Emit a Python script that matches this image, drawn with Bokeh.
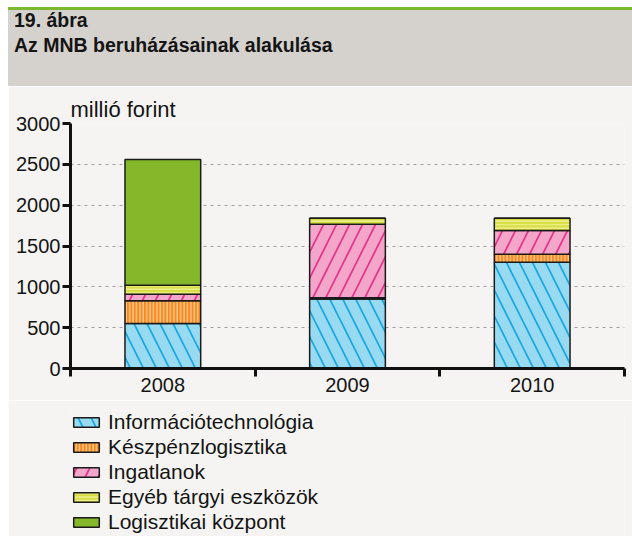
from bokeh.plotting import figure
from bokeh.layouts import column
from bokeh.models import (FixedTicker, Legend, LegendItem, Range1d,
                          ColumnDataSource, Div)
from bokeh.embed import file_html
from bokeh.resources import INLINE

# ---- data ----
years = ["2008", "2009", "2010"]
informaciotechnologia = [550, 850, 1300]
keszpenzlogisztika = [280, 15, 100]
ingatlanok = [80, 900, 290]
egyeb_targyi = [110, 75, 150]
logisztikai_kozpont = [1540, 0, 0]
series_labels = ["Információtechnológia", "Készpénzlogisztika", "Ingatlanok",
                 "Egyéb tárgyi eszközök", "Logisztikai központ"]
y_ticks = [0, 500, 1000, 1500, 2000, 2500, 3000]
unit_label = "millió forint"
chart_number = "19. ábra"
chart_title = "Az MNB beruházásainak alakulása"

FONT = "Liberation Sans"
TXT = "#141414"
BG = "#f5f4f2"
HEADER = "#d5d1cd"
W = 624

# ---- header ----
header = Div(
    text=(f"<div style='line-height:19px'>{chart_number}</div>"
          f"<div style='line-height:19px;margin-top:6px'>{chart_title}</div>"),
    width=W, height=79, margin=0,
    styles={"margin": "0px", "background-color": HEADER,
            "border-top": "3px solid #7cb82f", "box-sizing": "border-box",
            "padding": "1px 0 0 6px", "font-family": FONT,
            "font-size": "19.5px", "font-weight": "bold", "color": TXT})

# ---- chart ----
x = [i + 0.5 for i in range(len(years))]
names = ["it", "kesz", "ing", "egy", "log"]
source = ColumnDataSource(dict(x=x, it=informaciotechnologia, kesz=keszpenzlogisztika,
                               ing=ingatlanok, egy=egyeb_targyi, log=logisztikai_kozpont))

p = figure(width=W, height=314, x_range=Range1d(0, len(years)),
           y_range=Range1d(0, 3000), output_backend="svg", toolbar_location=None,
           min_border_left=62, min_border_right=8, min_border_top=37,
           min_border_bottom=32)
p.background_fill_color = BG
p.border_fill_color = BG
p.outline_line_color = None

fill_colors = ["#98daf1", "#f58a1f", "#f3a6c9", "#d8dd3e", "#84b82a"]
hatch_patterns = ["\\", "|", "/", "-", " "]
hatch_colors = ["#1aa8e0", "#fbcb96", "#e6358a", "#f1f3a2", "#84b82a"]
hatch_scales = [26, 3.4, 26, 3.4, 12]
hatch_weights = [1.7, 1.3, 1.7, 1.2, 1]
bar_style = dict(width=0.41, fill_color=fill_colors, hatch_pattern=hatch_patterns,
                 hatch_color=hatch_colors, hatch_scale=hatch_scales,
                 hatch_weight=hatch_weights, line_color="#1a1a1a", line_width=1.5)

rs = p.vbar_stack(stackers=names, x="x", source=source, **bar_style)

p.title.text = unit_label
p.title.text_font = FONT
p.title.text_font_size = "22px"
p.title.text_font_style = "normal"
p.title.text_color = TXT
p.title.offset = 0
p.title.standoff = 3

# x axis (labels at category centres, ticks at category boundaries)
p.xaxis.ticker = FixedTicker(ticks=x, minor_ticks=list(range(len(years) + 1)))
p.xaxis.major_label_overrides = {xi: yr for xi, yr in zip(x, years)}
p.xaxis.major_tick_out = 0
p.xaxis.major_tick_in = 0
p.xaxis.minor_tick_out = 8
p.xaxis.minor_tick_in = 0
p.xaxis.minor_tick_line_width = 3
p.xaxis.minor_tick_line_color = "#111111"
p.xaxis.axis_line_width = 3
p.xaxis.axis_line_color = "#111111"
p.xaxis.major_label_text_font = FONT
p.xaxis.major_label_text_font_size = "20px"
p.xaxis.major_label_text_color = TXT
p.xaxis.major_label_standoff = 1

# y axis
p.yaxis.ticker = FixedTicker(ticks=y_ticks)
p.yaxis.major_tick_out = 8
p.yaxis.major_tick_in = 0
p.yaxis.major_tick_line_width = 3
p.yaxis.major_tick_line_color = "#111111"
p.yaxis.minor_tick_line_color = None
p.yaxis.axis_line_width = 3
p.yaxis.axis_line_color = "#111111"
p.yaxis.major_label_text_font = FONT
p.yaxis.major_label_text_font_size = "20px"
p.yaxis.major_label_text_color = TXT
p.yaxis.major_label_standoff = 2

p.xgrid.visible = False
p.ygrid.ticker = FixedTicker(ticks=y_ticks)
p.ygrid.grid_line_color = "#a0a0a0"
p.ygrid.grid_line_dash = "3 4"
p.ygrid.grid_line_width = 1

# ---- legend panel (swatches from hidden copies of the same stacked bars) ----
lf = figure(width=W, height=136, x_range=Range1d(0, len(years)), y_range=Range1d(0, 3000),
            output_backend="svg", toolbar_location=None, min_border_left=62,
            min_border_top=10, min_border_right=8, min_border_bottom=0)
lf.axis.visible = False
lf.grid.visible = False
lf.outline_line_color = None
lf.background_fill_color = BG
lf.border_fill_color = BG
lrs = lf.vbar_stack(stackers=names, x="x", source=source, **bar_style)
for r in lrs:
    r.visible = False
legend = Legend(items=[LegendItem(label=lab, renderers=[r]) for lab, r in zip(series_labels, lrs)],
                location="top_left", orientation="vertical", padding=0, margin=0,
                spacing=1, glyph_width=32, glyph_height=12, label_height=24,
                label_standoff=6, label_text_font=FONT, label_text_font_size="21px",
                label_text_color=TXT, background_fill_alpha=0,
                border_line_color=None, inactive_fill_alpha=0)
lf.add_layout(legend)

layout = column(header, p, lf, spacing=0,
                styles={"margin-left": "8px", "margin-top": "7px"})
open("out.html", "w").write(file_html(layout, INLINE))
